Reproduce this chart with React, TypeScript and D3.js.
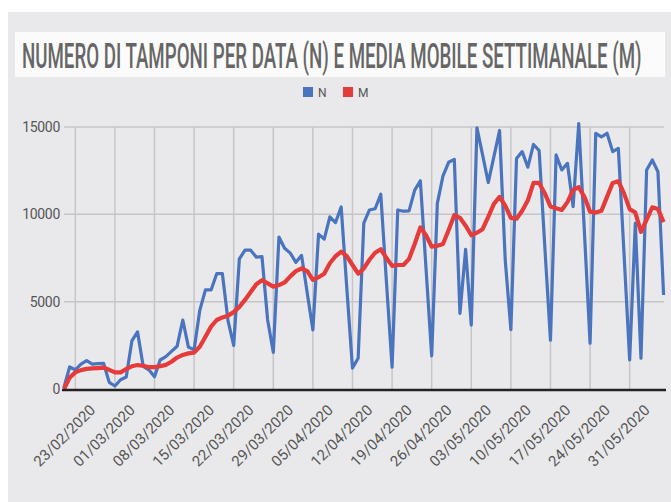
import React, { useEffect, useRef } from 'react';
import * as d3 from 'd3';

// daily tests (N) and weekly moving average (M), one value per day
const nValues = [100, 1260, 1100, 1420, 1620, 1420, 1450, 1470, 380, 170,
  530, 690, 2750, 3270, 1300, 1100, 700, 1660, 1850, 2150,
  2450, 3950, 2400, 2250, 4500, 5670, 5670, 6600, 6600, 3900,
  2500, 7450, 7950, 7950, 7550, 7580, 3950, 2100, 8700, 8060,
  7780, 7250, 7650, 5500, 3380, 8870, 8580, 9860, 9530, 10420,
  5760, 1200, 1760, 9490, 10250, 10320, 11150, 6150, 1250, 10250,
  10180, 10200, 11390, 11920, 6900, 1900, 10630, 12200, 12980, 13150,
  4330, 8000, 3660, 14950, 13400, 11820, 13300, 14800, 7400, 3400,
  13200, 13590, 12700, 14000, 13650, 8150, 2800, 13400, 12540, 12920,
  10440, 15200, 9000, 2620, 14640, 14440, 14640, 13590, 13780, 7770,
  1660, 9500, 1760, 12540, 13110, 12440, 5380];

const mValues = [0, 650, 950, 1080, 1150, 1180, 1200, 1220, 1100, 950,
  950, 1150, 1300, 1370, 1330, 1250, 1250, 1300, 1380, 1560,
  1800, 1950, 2040, 2080, 2420, 2990, 3570, 3950, 4100, 4200,
  4400, 4700, 5100, 5550, 6000, 6230, 6050, 5860, 5950, 6100,
  6450, 6750, 6900, 6750, 6250, 6400, 6600, 7200, 7600, 7860,
  7600, 7100, 6600, 6900, 7400, 7800, 8000, 7500, 7050, 7100,
  7100, 7450, 8300, 9250, 8800, 8150, 8200, 8300, 9100, 9950,
  9800, 9350, 8800, 8950, 9150, 9850, 10600, 11000, 10500, 9800,
  9750, 10200, 10800, 11800, 11800, 11200, 10450, 10350, 10250, 10700,
  11400, 11550, 11000, 10150, 10100, 10200, 11000, 11800, 11900, 11200,
  10300, 10100, 9000, 9700, 10400, 10300, 9550];

const tickLabels = ['23/02/2020', '01/03/2020', '08/03/2020', '15/03/2020', '22/03/2020',
  '29/03/2020', '05/04/2020', '12/04/2020', '19/04/2020', '26/04/2020',
  '03/05/2020', '10/05/2020', '17/05/2020', '24/05/2020', '31/05/2020'];
const firstTickDay = 2;
const yTicks = [0, 5000, 10000, 15000];

const title = 'NUMERO DI TAMPONI PER DATA (N) E MEDIA MOBILE SETTIMANALE (M)';

export default function App() {
  const ref = useRef<SVGSVGElement>(null);

  useEffect(() => {
    const svg = d3.select(ref.current);
    svg.selectAll('*').remove();

    const W = 671, H = 502;
    const x = d3.scaleLinear().domain([0, nValues.length - 1]).range([64, 663.6]);
    const y = d3.scaleLinear().domain([0, 15000]).range([389, 127]);
    const grid = '#c6c6c8';
    const textColor = '#555';

    // background panel + title box
    svg.append('rect').attr('width', W).attr('height', H).attr('fill', '#fff');
    svg.append('rect').attr('x', 8).attr('y', 12).attr('width', W - 8).attr('height', H - 12)
      .attr('fill', '#e9e9eb');
    svg.append('rect').attr('x', 15).attr('y', 32).attr('width', 650).attr('height', 45)
      .attr('fill', '#fbfbfb');
    // condensed title: squeeze horizontally to the reference width
    const t = svg.append('text')
      .attr('font-family', 'Roboto, sans-serif')
      .attr('font-size', 35)
      .attr('font-weight', 500)
      .attr('fill', '#666')
      .text(title);
    const len = (t.node() as SVGTextElement).getComputedTextLength() || 1200;
    t.attr('transform', `translate(22,68) scale(${620 / len},1)`);

    // legend
    const legend = [{ name: 'N', color: '#4a74bd', x: 303 }, { name: 'M', color: '#e63b3b', x: 343 }];
    legend.forEach(l => {
      svg.append('rect').attr('x', l.x).attr('y', 87).attr('width', 10).attr('height', 10).attr('fill', l.color);
      svg.append('text').attr('x', l.x + 15).attr('y', 97)
        .attr('font-family', 'Roboto, sans-serif').attr('font-size', 12)
        .attr('fill', textColor).text(l.name);
    });

    // gridlines
    const g = svg.append('g');
    g.selectAll('.hgrid').data(yTicks.filter(d => d > 0)).enter().append('line')
      .attr('x1', 64).attr('x2', 664)
      .attr('y1', d => y(d)).attr('y2', d => y(d))
      .attr('stroke', grid).attr('stroke-width', 1.5);
    g.selectAll('.vgrid').data(tickLabels).enter().append('line')
      .attr('x1', (d, i) => x(firstTickDay + i * 7)).attr('x2', (d, i) => x(firstTickDay + i * 7))
      .attr('y1', y(15000)).attr('y2', y(0))
      .attr('stroke', grid).attr('stroke-width', 1.5);

    // y labels
    g.selectAll('.ylab').data(yTicks).enter().append('text')
      .attr('x', 60).attr('y', d => y(d) + 5)
      .attr('text-anchor', 'end')
      .attr('font-family', 'Roboto, sans-serif').attr('font-size', 14)
      .attr('letter-spacing', -0.3)
      .attr('fill', textColor)
      .text(d => d);

    // x labels
    g.selectAll('.xlab').data(tickLabels).enter().append('text')
      .attr('transform', (d, i) => `translate(${x(firstTickDay + i * 7) + 21},411) rotate(-45)`)
      .attr('text-anchor', 'end')
      .attr('font-family', 'Roboto, sans-serif').attr('font-size', 15)
      .attr('fill', textColor)
      .text(d => d);

    // lines
    const line = d3.line<number>().x((d, i) => x(i)).y(d => y(d));
    svg.append('path').datum(nValues).attr('d', line)
      .attr('fill', 'none').attr('stroke', '#4a74bd').attr('stroke-width', 3.2)
      .attr('stroke-linejoin', 'round');
    svg.append('path').datum(mValues).attr('d', line)
      .attr('fill', 'none').attr('stroke', '#e63b3b').attr('stroke-width', 4.2)
      .attr('stroke-linejoin', 'round');

    // x axis line
    svg.append('line').attr('x1', 62).attr('x2', 666).attr('y1', 390).attr('y2', 390)
      .attr('stroke', '#222').attr('stroke-width', 2.5);
  }, []);

  return (
    <svg ref={ref} width={671} height={502}
      style={{ position: 'absolute', left: 0, top: 0, display: 'block' }} />
  );
}
